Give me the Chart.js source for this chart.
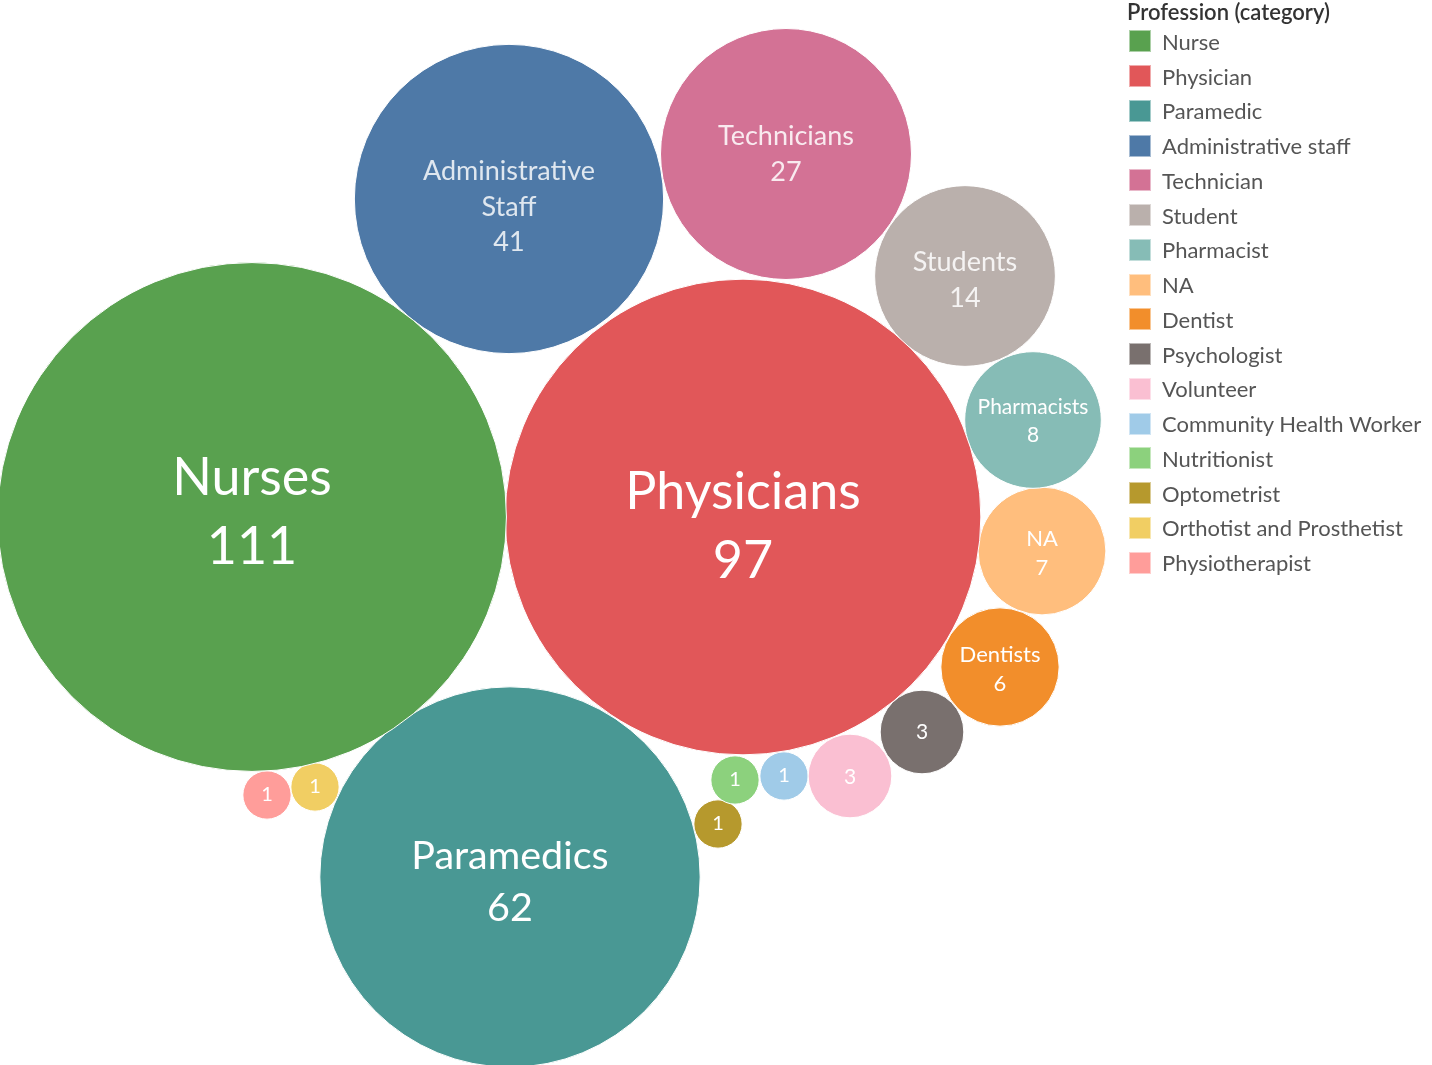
<!DOCTYPE html>
<html>
<head>
<meta charset="utf-8">
<script src="https://cdn.jsdelivr.net/npm/chart.js"></script>
<style>
  body { margin: 0; background: #fff; }
  #wrap { position: relative; width: 1432px; height: 1065px; }
  #legend { position: absolute; left: 1127px; top: 0; font-family: Lato, sans-serif; }
  #legend .title { height: 24px; line-height: 24px; font-size: 22px; color: #333; font-weight: 600; }
  #legend .item { height: 34.75px; display: flex; align-items: center; padding-left: 2px; font-size: 22px; color: #555; }
  #legend .sw { width: 22px; height: 22px; box-sizing: border-box; border: 1px solid rgba(255,255,255,0.5); margin-right: 11px; }
</style>
</head>
<body>
<div id="wrap">
  <canvas id="myChart"></canvas>
  <div id="legend"></div>
</div>
<script>
// data
const categories = ['Nurse', 'Physician', 'Paramedic', 'Administrative staff', 'Technician', 'Student',
  'Pharmacist', 'NA', 'Dentist', 'Psychologist', 'Volunteer', 'Community Health Worker',
  'Nutritionist', 'Optometrist', 'Orthotist and Prosthetist', 'Physiotherapist'];
const bubbleNames = ['Nurses', 'Physicians', 'Paramedics', 'Administrative\nStaff', 'Technicians', 'Students',
  'Pharmacists', 'NA', 'Dentists', '', '', '', '', '', '', ''];
const counts = [111, 97, 62, 41, 27, 14, 8, 7, 6, 3, 3, 1, 1, 1, 1, 1];

// layout of the packed bubbles (centres, in scale units = px)
const centerX = [252, 743, 510, 509, 786, 965, 1033, 1042, 1000, 922, 850, 784, 735, 718, 315, 267];
const centerY = [517, 517, 877, 199, 154, 276, 420, 551, 667, 732, 776, 776, 780, 824, 787, 795];
const pxPerSqrt = 24.15; // bubble area proportional to count

// styles
const colors = ['#59a14f', '#e15759', '#499894', '#4e79a7', '#d37295', '#bab0ac', '#86bcb6', '#ffbe7d',
  '#f28e2b', '#79706e', '#fabfd2', '#a0cbe8', '#8cd17d', '#b6992d', '#f1ce63', '#ff9d9a'];
const labelSize = [52, 52, 39.5, 27, 27, 27, 21, 22, 22, 21, 21, 20, 20, 20, 20, 20];
const labelShift = [-4, 10, 5, 8, 0, 4, 1, 2, 2, 0, 1, 0, 0, 0, 0, 0];
const labelColor = ['#fff', '#fff', '#fff', 'rgba(255,255,255,0.82)', 'rgba(255,255,255,0.85)', 'rgba(255,255,255,0.85)',
  '#fff', '#fff', '#fff', '#fff', '#fff', '#fff', '#fff', '#fff', '#fff', '#fff'];

const bubbleLabels = {
  id: 'bubbleLabels',
  afterDatasetsDraw(chart) {
    const c = chart.ctx;
    chart.data.datasets.forEach((ds, i) => {
      const pt = chart.getDatasetMeta(i).data[0];
      if (!pt) return;
      const lines = (bubbleNames[i] ? bubbleNames[i].split('\n') : []).concat(String(counts[i]));
      const size = labelSize[i];
      const lh = size * 1.32;
      c.save();
      c.font = size + 'px Lato';
      c.fillStyle = labelColor[i];
      c.textAlign = 'center';
      c.textBaseline = 'middle';
      const top = pt.y + labelShift[i] - lh * (lines.length - 1) / 2;
      lines.forEach((l, j) => c.fillText(l, pt.x, top + j * lh));
      c.restore();
    });
  }
};

const ctx = document.getElementById('myChart');
const chart = new Chart(ctx, {
  type: 'bubble',
  data: {
    datasets: categories.map((name, i) => ({
      label: name,
      data: [{ x: centerX[i], y: centerY[i], r: pxPerSqrt * Math.sqrt(counts[i]) }],
      backgroundColor: colors[i],
      borderColor: '#fff',
      borderWidth: 1,
      hoverRadius: 0
    }))
  },
  options: {
    responsive: true,
    maintainAspectRatio: false,
    animation: false,
    layout: { padding: 0, autoPadding: false },
    scales: {
      x: { display: false, min: 0, max: 1432 },
      y: { display: false, min: 0, max: 1065, reverse: true }
    },
    plugins: {
      legend: { display: false },
      tooltip: { enabled: false }
    }
  },
  plugins: [bubbleLabels]
});

// legend
const lg = document.getElementById('legend');
let html = '<div class="title">Profession (category)</div>';
categories.forEach((name, i) => {
  html += '<div class="item"><span class="sw" style="background:' + colors[i] + '"></span>' + name + '</div>';
});
lg.innerHTML = html;
</script>
</body>
</html>
